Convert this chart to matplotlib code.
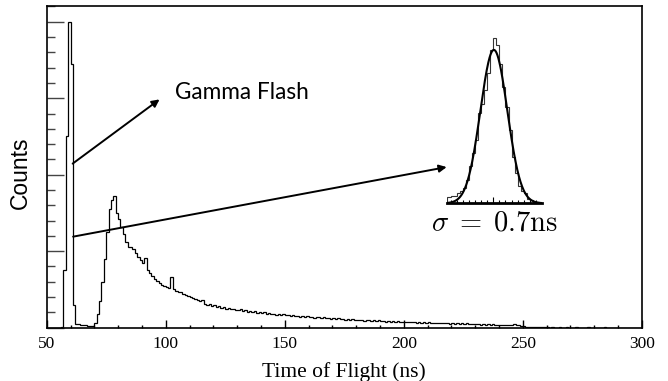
"""Time-of-flight spectrum with gamma flash and fitted gamma-peak inset."""
import numpy as np
import matplotlib

matplotlib.use("Agg")
import matplotlib.pyplot as plt
from matplotlib.ticker import MultipleLocator

# main spectrum: counts per 1 ns bin, 50..300 ns
TOF_START, TOF_STOP, TOF_BIN = 50, 300, 1
COUNTS = [
    0, 0, 0, 0, 0, 0, 3, 150, 500, 800,                 # 50-59
    690, 60, 10, 9, 8, 7, 6, 5, 4, 4,                   # 60-69
    12, 35, 70, 120, 180, 250, 310, 335, 345, 300,      # 70-79
    285, 262, 245, 225, 212, 210, 205, 195, 185, 178,   # 80-89
    168, 183, 152, 143, 136, 128, 123, 116, 112, 109,   # 90-99
    106, 104, 133, 102, 97, 94, 92, 89, 85, 84,         # 100-109
    80, 78, 76, 72, 70, 73, 62, 60, 63, 57,             # 110-119
    58, 55, 57, 52, 54, 50, 52, 48, 50, 47,             # 120-129
    45, 48, 44, 46, 42, 43, 40, 43, 39, 41,             # 130-139
    38, 40, 36, 38, 35, 37, 34, 35, 33, 35,             # 140-149
    32, 33, 31, 34, 30, 31, 29, 31, 28, 30,             # 150-159
    27, 29, 26, 28, 27, 25, 27, 24, 26, 23,             # 160-169
    25, 22, 24, 22, 23, 21, 23, 20, 22, 20,             # 170-179
    21, 19, 21, 18, 20, 19, 18, 20, 17, 19,             # 180-189
    17, 18, 16, 18, 16, 17, 15, 17, 15, 16,             # 190-199
    15, 14, 16, 14, 15, 13, 15, 13, 14, 12,             # 200-209
    14, 12, 13, 12, 13, 11, 12, 11, 12, 10,             # 210-219
    12, 10, 11, 10, 11, 9, 11, 10, 9, 10,               # 220-229
    9, 10, 8, 9, 8, 9, 8, 9, 7, 8,                      # 230-239
    7, 8, 7, 8, 7, 8, 9, 7, 6, 5,                       # 240-249
    4, 3, 3, 2, 2, 2, 1, 1, 1, 1,                       # 250-259
    1, 0, 1, 0, 0, 1, 0, 0, 1, 0,                       # 260-269
    0, 0, 1, 0, 0, 0, 0, 1, 0, 0,                       # 270-279
    0, 0, 0, 0, 1, 0, 0, 0, 0, 0,                       # 280-289
    0, 0, 0, 0, 0, 0, 0, 0, 0, 0,                       # 290-299
]

# inset: gamma peak, 0.15 ns bins around the fitted centre
PEAK_START, PEAK_BIN = -2.25, 0.15
PEAK_COUNTS = [4, 5, 5, 7, 8, 10, 15, 24, 33, 41, 59, 65, 74, 85, 100,
               108, 103, 91, 76, 63, 48, 30, 20, 11, 8, 6.5, 3, 2, 1, 1, 0.5]
FIT_AMP, FIT_MU, FIT_SIGMA = 100.0, 0.03, 0.66

plt.rcParams["font.family"] = ["Liberation Serif", "DejaVu Serif"]
plt.rcParams["mathtext.fontset"] = "cm"

fig = plt.figure(figsize=(6.68, 3.81), dpi=100)
ax = fig.add_axes([0.0699, 0.140, 0.891, 0.844])

edges = np.arange(TOF_START, TOF_STOP + TOF_BIN, TOF_BIN)
ax.stairs(COUNTS, edges, color="black", lw=0.9)

ax.set_xlim(50, 300)
ax.set_ylim(0, 841)
ax.xaxis.set_major_locator(MultipleLocator(50))
ax.xaxis.set_minor_locator(MultipleLocator(10))
ax.yaxis.set_major_locator(MultipleLocator(200))
ax.yaxis.set_minor_locator(MultipleLocator(40))
ax.tick_params(axis="y", which="major", direction="in", length=12, width=1.0,
               color="#444444", labelleft=False)
ax.tick_params(axis="y", which="minor", direction="in", length=5.8, width=1.0,
               color="#444444")
ax.tick_params(axis="x", which="major", direction="in", length=5.8, width=1.0,
               labelsize=12.5, pad=6)
ax.tick_params(axis="x", which="minor", direction="in", length=2.5, width=1.0)
for sp in ax.spines.values():
    sp.set_linewidth(1.2)
ax.set_xlabel("Time of Flight (ns)", fontsize=15.5, labelpad=7)
fig.text(0.030, 0.546, "Counts", rotation=90, ha="center", va="center",
         fontsize=16.5, family=["Liberation Sans", "DejaVu Sans"])

arrow = dict(arrowstyle="-|>", lw=1.4, color="black", mutation_scale=11,
             shrinkA=0, shrinkB=0)
ax.annotate("", xy=(97.4, 597), xytext=(60.9, 429), arrowprops=arrow)
ax.annotate("", xy=(218.0, 420), xytext=(61.1, 238), arrowprops=arrow)
ax.text(103.7, 615, "Gamma Flash", fontsize=16.3, va="center", ha="left",
        family=["Lato", "DejaVu Sans"])

# inset with gaussian fit
ins = fig.add_axes([0.6696, 0.4664, 0.1413, 0.455])
ins.patch.set_alpha(0)
pe = PEAK_START + PEAK_BIN * np.arange(len(PEAK_COUNTS) + 1)
ins.stairs(PEAK_COUNTS, pe, color="#333333", lw=0.8)
xf = np.linspace(-2.26, 2.38, 300)
ins.plot(xf, FIT_AMP * np.exp(-0.5 * ((xf - FIT_MU) / FIT_SIGMA) ** 2),
         color="black", lw=1.5)
ins.set_xlim(-2.26, 2.38)
ins.set_ylim(0, 113)
for side in ("top", "right", "left"):
    ins.spines[side].set_visible(False)
ins.spines["bottom"].set_linewidth(2.0)
ins.set_yticks([])
ins.xaxis.set_major_locator(MultipleLocator(2.4))
ins.xaxis.set_minor_locator(MultipleLocator(0.3))
ins.tick_params(axis="x", which="major", direction="in", length=4, width=0.8,
                labelbottom=False)
ins.tick_params(axis="x", which="minor", direction="in", length=2.5, width=0.8)
fig.text(0.7403, 0.412, r"$\sigma\;=\;0.7\mathrm{ns}$", fontsize=20.5,
         ha="center", va="center")

fig.savefig("out.png", dpi=100)
